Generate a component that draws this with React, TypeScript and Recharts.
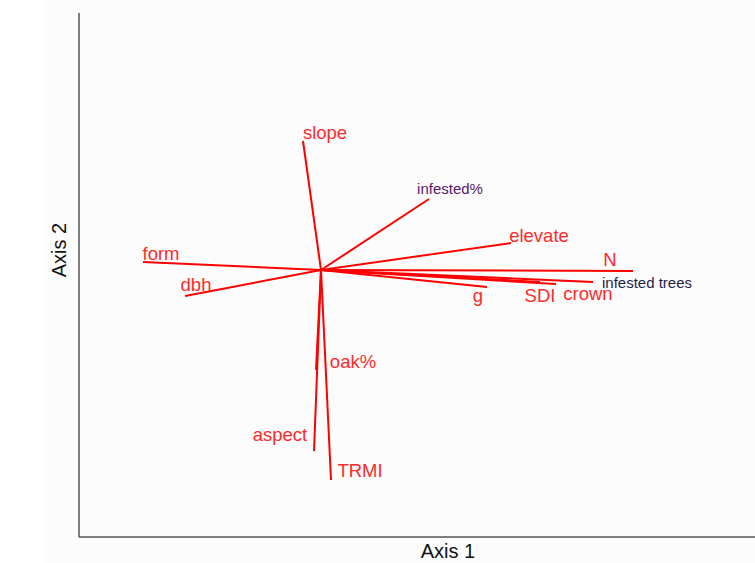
import { ScatterChart, Scatter, XAxis, YAxis, ReferenceLine } from 'recharts'

// ordination vectors (arrow tips) and where their labels sit, in axis units
const vars = ['slope', 'infested%', 'elevate', 'N', 'infested trees', 'crown', 'SDI', 'g', 'form', 'dbh', 'oak%', 'aspect', 'TRMI']
const tipX = [-0.18, 1.08, 1.9, 3.12, 2.72, 2.35, 2.19, 1.66, -1.78, -1.36, -0.05, -0.07, 0.1]
const tipY = [1.29, 0.71, 0.27, -0.01, -0.12, -0.14, -0.12, -0.17, 0.08, -0.26, -1.0, -1.81, -2.1]
const labelX = [0.04, 1.29, 2.18, 2.89, 3.26, 2.67, 2.19, 1.57, -1.6, -1.25, 0.32, -0.41, 0.39]
const labelY = [1.38, 0.82, 0.35, 0.11, -0.12, -0.23, -0.25, -0.25, 0.17, -0.14, -0.91, -1.64, -2.0]

const xDomain = [-2.42, 4.34]
const yDomain = [-2.67, 2.57]

const labelColor = (name: string) => {
  if (name === 'infested%') return '#55186a'
  if (name === 'infested trees') return '#1f1f45'
  return '#ff2a2a'
}

const VarLabel = (props: any) => {
  const { cx, cy, payload } = props
  const small = payload.name === 'infested%' || payload.name === 'infested trees'
  return (
    <text
      x={cx}
      y={cy}
      textAnchor="middle"
      dominantBaseline="central"
      fontFamily="'Liberation Sans', Arial, sans-serif"
      fontSize={small ? 15 : 18.5}
      fill={labelColor(payload.name)}
    >
      {payload.name}
    </text>
  )
}

export default function App() {
  const labels = vars.map((name, i) => ({ name, x: labelX[i], y: labelY[i] }))

  return (
    <div style={{ position: 'absolute', left: 0, top: 0, width: 755, height: 563, background: '#fff' }}>
      <div style={{ position: 'absolute', left: 43, top: 0, width: 712, height: 563, background: '#fcfcfc' }} />
      <ScatterChart
        width={755}
        height={563}
        margin={{ top: 13, right: 0, bottom: 0, left: 0 }}
        style={{ position: 'absolute', left: 0, top: 0, fontFamily: "'Liberation Sans', Arial, sans-serif" }}
      >
        <XAxis
          type="number"
          dataKey="x"
          domain={xDomain}
          allowDataOverflow
          tick={false}
          tickLine={false}
          height={26}
          axisLine={{ stroke: '#555', strokeWidth: 1.5 }}
          label={{ value: 'Axis 1', position: 'insideBottom', offset: 5, dx: 31, fill: '#111', fontSize: 20 }}
        />
        <YAxis
          type="number"
          dataKey="y"
          domain={yDomain}
          allowDataOverflow
          tick={false}
          tickLine={false}
          width={79}
          axisLine={{ stroke: '#555', strokeWidth: 1.5 }}
          label={{ value: 'Axis 2', angle: -90, position: 'insideLeft', offset: 59, dy: -25, fill: '#111', fontSize: 20, textAnchor: 'middle' }}
        />
        {vars.map((name, i) => (
          <ReferenceLine
            key={name}
            segment={[{ x: 0, y: 0 }, { x: tipX[i], y: tipY[i] }]}
            stroke="#ff0000"
            strokeWidth={2}
            ifOverflow="visible"
          />
        ))}
        <Scatter data={labels} shape={<VarLabel />} isAnimationActive={false} />
      </ScatterChart>
    </div>
  )
}
